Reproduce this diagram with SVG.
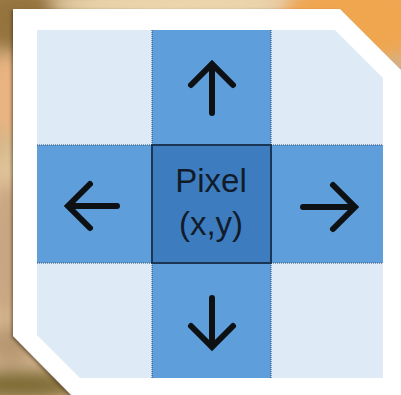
<svg xmlns="http://www.w3.org/2000/svg" width="401" height="395" viewBox="0 0 401 395">
  <defs>
    <linearGradient id="bgGrad" x1="0" y1="0" x2="1" y2="1">
      <stop offset="0" stop-color="#a98a52"/>
      <stop offset="0.25" stop-color="#e6c9a0"/>
      <stop offset="0.6" stop-color="#d0b08a"/>
      <stop offset="1" stop-color="#9c8450"/>
    </linearGradient>
    <filter id="soft" x="-20%" y="-20%" width="140%" height="140%">
      <feGaussianBlur stdDeviation="8"/>
    </filter>
    <filter id="panelShadow" x="-10%" y="-10%" width="120%" height="120%">
      <feDropShadow dx="-1.5" dy="1.5" stdDeviation="1.8" flood-color="#3a2a10" flood-opacity="0.55"/>
    </filter>
    <clipPath id="gridClip">
      <polygon points="37,30 335,30 383,78 383,378 80,378 37,335"/>
    </clipPath>
    <style>
      .light { fill: #deebf7; }
      .mid { fill: #5e9fdb; }
      .center { fill: #3d7cbf; stroke: #1b3554; stroke-width: 2; }
      .dots { stroke: #2c4a6e; stroke-width: 1; stroke-dasharray: 1 1; fill: none; }
      .arrow { fill: none; stroke: #0e1114; stroke-width: 6; stroke-linecap: round; stroke-linejoin: miter; }
      .label { font-family: "Liberation Sans", Arial, sans-serif; font-size: 33px; fill: #111c2a; text-anchor: middle; }
    </style>
  </defs>

  <!-- blurred backdrop -->
  <rect x="0" y="0" width="401" height="395" fill="url(#bgGrad)"/>
  <g filter="url(#soft)">
    <ellipse cx="20" cy="20" rx="40" ry="30" fill="#94733c"/>
    <ellipse cx="170" cy="4" rx="120" ry="14" fill="#ecd6ae"/>
    <ellipse cx="360" cy="20" rx="80" ry="40" fill="#f0a650"/>
    <ellipse cx="6" cy="95" rx="22" ry="40" fill="#eab482"/>
    <ellipse cx="6" cy="250" rx="20" ry="70" fill="#c9a682"/>
    <ellipse cx="20" cy="385" rx="60" ry="14" fill="#7d6a35"/>
    <ellipse cx="10" cy="345" rx="24" ry="20" fill="#b79872"/>
  </g>

  <!-- white card -->
  <polygon points="13,9 340,9 410,79 410,410 86,410 13,336" fill="#ffffff" filter="url(#panelShadow)"/>

  <g clip-path="url(#gridClip)">
    <g id="cell-top-left"><rect class="light" x="37" y="30" width="115" height="115"/></g>
    <g id="cell-top-right"><rect class="light" x="271" y="30" width="112" height="115"/></g>
    <g id="cell-bottom-left"><rect class="light" x="37" y="263" width="115" height="115"/></g>
    <g id="cell-bottom-right"><rect class="light" x="271" y="263" width="112" height="115"/></g>

    <g id="cell-up">
      <rect class="mid" x="152" y="30" width="119" height="115"/>
      <path class="arrow" d="M212,113 V64 M191,85 L212,64 L233,85"/>
    </g>
    <g id="cell-left">
      <rect class="mid" x="37" y="145" width="115" height="118"/>
      <path class="arrow" d="M117,206 H68 M90,184 L68,206 L90,228"/>
    </g>
    <g id="cell-right">
      <rect class="mid" x="271" y="145" width="112" height="118"/>
      <path class="arrow" d="M303,207 H355 M333,185 L355,207 L333,229"/>
    </g>
    <g id="cell-down">
      <rect class="mid" x="152" y="263" width="119" height="115"/>
      <path class="arrow" d="M212,298 V347 M191,326 L212,347 L233,326"/>
    </g>

    <!-- dotted cell boundaries -->
    <g id="grid-lines">
      <path class="dots" d="M37,145 H152 M271,145 H383 M37,263 H152 M271,263 H383 M152,30 V145 M271,30 V145 M152,263 V378 M271,263 V378"/>
    </g>

    <g id="cell-center">
      <rect class="center" x="152" y="145" width="119" height="118"/>
      <text class="label" x="211" y="192">Pixel</text>
      <text class="label" x="211" y="235">(x,y)</text>
    </g>
  </g>
</svg>
